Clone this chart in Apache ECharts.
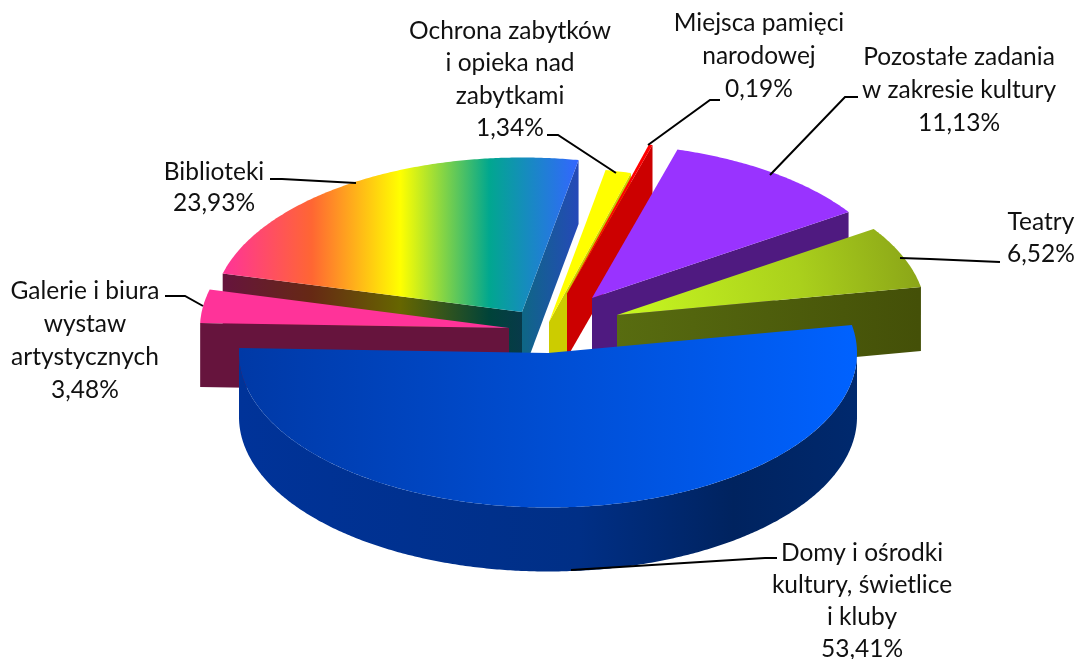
<!DOCTYPE html>
<html><head><meta charset="utf-8">
<style>html,body{margin:0;padding:0;background:#fff}#c{width:1079px;height:659px}</style>
<script src="https://cdn.jsdelivr.net/npm/echarts@6/dist/echarts.min.js"></script>
</head><body><div id="c"></div>
<script>
// ---------- data (clockwise, starting with the large slice) ----------
const categories = ['Domy i ośrodki kultury, świetlice i kluby','Galerie i biura wystaw artystycznych','Biblioteki','Ochrona zabytków i opieka nad zabytkami','Miejsca pamięci narodowej','Pozostałe zadania w zakresie kultury','Teatry'];
const values = [53.41, 3.48, 23.93, 1.34, 0.19, 11.13, 6.52];
const valueLabels = ['53,41%','3,48%','23,93%','1,34%','0,19%','11,13%','6,52%'];
const labelLines = [
  ['Domy i ośrodki','kultury, świetlice','i kluby'],
  ['Galerie i biura','wystaw','artystycznych'],
  ['Biblioteki'],
  ['Ochrona zabytków','i opieka nad','zabytkami'],
  ['Miejsca pamięci','narodowej'],
  ['Pozostałe zadania','w zakresie kultury'],
  ['Teatry']
];
// ---------- layout ----------
const startDeg = -10.4, RX = 309, KY = 0.5, DEPTH = 64;
const apexX = [548, 509, 522, 549, 567, 592, 617];
const apexY = [353, 328, 312, 322, 293.5, 298, 315];
const drawOrder = [2, 1, 3, 4, 5, 6, 0];
const labelCenterX = [862, 85, 214, 510, 759, 959, 1041];
const labelTopY = [553, 291, 172, 31, 23, 57, 222];
const lineSteps = [32, 33, 31, 32.5, 33, 33, 32];
const leaders = [
  [[777,558],[765,558],[571,570]],
  [[165,296],[185,296],[203,306]],
  [[270,179],[282,179],[356,183]],
  [[547,135],[558,135],[616,173]],
  [[720,100],[710,100],[648,145]],
  [[858,97],[845,97],[770,175]],
  [[1000,262],[930,259],[900,258]]
];
// ---------- styling ----------
function shade(hex, f){
  const n = parseInt(hex.slice(1),16);
  const c = [(n>>16)&255,(n>>8)&255,n&255].map(v=>Math.round(v*f));
  return 'rgb('+c.join(',')+')';
}
function hGrad(x0, x1, stops, f){
  return new echarts.graphic.LinearGradient(x0,0,x1,0,
    stops.map(s=>({offset:s[0],color:shade(s[1],f)})), true);
}
const rainbow = [[0,'#ff3399'],[0.25,'#ff6633'],[0.5,'#ffff00'],[0.75,'#01a78f'],[1,'#3366ff']];
const fills = [
  { top: hGrad(240,857,[[0,'#0039a6'],[1,'#0062ff']],1),
    outer: hGrad(240,857,[[0,'#003399'],[0.55,'#002f86'],[0.8,'#00235f'],[1,'#00296e']],1) },
  { top:'#ff3399', start:'#66143d', end:'#66143d' },
  { top: hGrad(223,578,rainbow,1), start: hGrad(223,578,rainbow,0.4), end: hGrad(223,578,rainbow,0.72) },
  { top:'#ffff00', end:'#cccc00' },
  { top:'#ff0000', end:'#cc0000' },
  { top:'#9933ff', end:'#4f1a80' },
  { top: new echarts.graphic.RadialGradient(617,315,310,[{offset:0,color:'#c8f820'},{offset:0.6,color:'#aad01c'},{offset:1,color:'#8aa418'}],true),
    end: hGrad(617,919,[[0,'#586c10'],[1,'#445008']],1) }
];
// ---------- slice geometry derived from the values ----------
const total = values.reduce((a,b)=>a+b,0);
const spans = []; { let a = startDeg; for (const v of values){ const b = a + v/total*360; spans.push([a,b]); a = b; } }
const rad = d=>d*Math.PI/180;
function rim(i,t){ return [apexX[i]+RX*Math.cos(rad(t)), apexY[i]+RX*KY*Math.sin(rad(t))]; }
function arc(i,a,b){ const n=Math.max(2,Math.ceil(Math.abs(b-a)*2)); const p=[]; for(let k=0;k<=n;k++) p.push(rim(i,a+(b-a)*k/n)); return p; }
const down = p=>[p[0],p[1]+DEPTH];
const poly = (points,fill)=>({type:'polygon',shape:{points},style:{fill,stroke:null}});

function renderSlice(params, api){
  const i = api.value(0), [a,b] = spans[i], f = fills[i], A=[apexX[i],apexY[i]], kids=[];
  // radial cut faces facing the viewer
  if (Math.cos(rad(a))<0 && f.start){ const r=rim(i,a); kids.push(poly([A,r,down(r),down(A)],f.start)); }
  if (Math.cos(rad(b))>0 && f.end){ const r=rim(i,b); kids.push(poly([A,r,down(r),down(A)],f.end)); }
  // curved outer wall (lower half of the ellipse only)
  const oa=Math.max(a,0), ob=Math.min(b,180);
  if (ob>oa && f.outer){ const p=arc(i,oa,ob); kids.push(poly(p.concat(p.slice().reverse().map(down)),f.outer)); }
  // top face
  kids.push(poly([A].concat(arc(i,a,b)),f.top));
  return {type:'group',children:kids};
}
function renderLabel(params, api){
  const i = api.value(0), kids=[], lines = labelLines[i].concat(valueLabels[i]);
  kids.push({type:'polyline',shape:{points:leaders[i]},style:{stroke:'#000',lineWidth:2,fill:null}});
  lines.forEach((t,k)=>kids.push({type:'text',x:labelCenterX[i],y:labelTopY[i]+k*lineSteps[i],
    style:{text:t,fill:'#111',font:'24.5px Lato',align:'center',verticalAlign:'middle'}}));
  return {type:'group',children:kids};
}
const chart = echarts.init(document.getElementById('c'),null,{renderer:'canvas'});
chart.setOption({
  animation:false, backgroundColor:'#fff',
  series:[
    {type:'custom',coordinateSystem:'none',renderItem:renderSlice,silent:true,z:1,
     data:drawOrder.map(i=>({name:categories[i],value:[i,values[i]]}))},
    {type:'custom',coordinateSystem:'none',renderItem:renderLabel,silent:true,z:2,
     data:categories.map((c,i)=>({name:c,value:[i,values[i]]}))}
  ]
});
</script></body></html>
